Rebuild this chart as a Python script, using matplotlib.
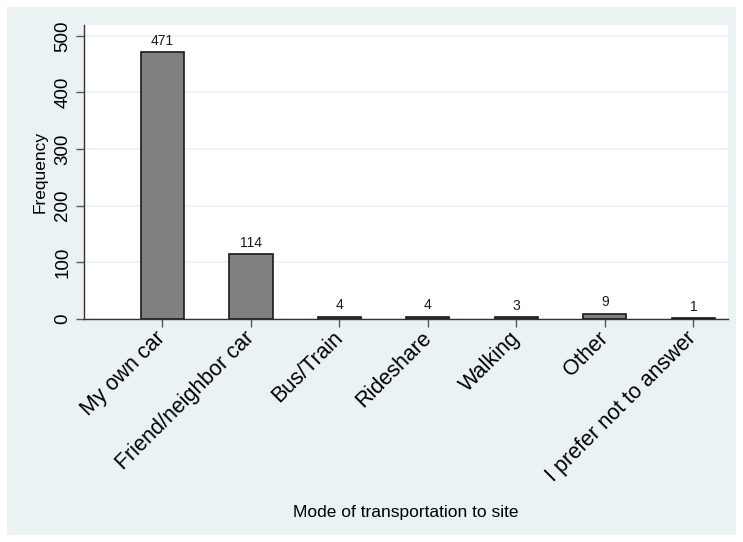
import matplotlib
matplotlib.use("Agg")
import matplotlib.pyplot as plt
from matplotlib.patches import Rectangle

categories = ["My own car", "Friend/neighbor car", "Bus/Train", "Rideshare",
              "Walking", "Other", "I prefer not to answer"]
values = [471, 114, 4, 4, 3, 9, 1]
yticks = [0, 100, 200, 300, 400, 500]

plt.rcParams['font.family'] = ['Liberation Sans', 'DejaVu Sans']

fig = plt.figure(figsize=(7.43, 5.42), dpi=100, facecolor='white')
bg = Rectangle((7/743, 7/542), 729/743, 528/542, transform=fig.transFigure,
               facecolor='#EAF2F3', edgecolor='none', zorder=-10)
fig.patches.append(bg)

ax = fig.add_axes([84/743, 1 - 319/542, (728-84)/743, (319-25)/542])
ax.set_facecolor('white')
x = list(range(len(categories)))
ax.bar(x, values, width=0.486, color='#808080', edgecolor='#1a1a1a', linewidth=1.2, zorder=3)
for xi, v in zip(x, values):
    ax.text(xi, v + 8, str(v), ha='center', va='bottom', fontsize=10, color='#1a1a1a')

ax.set_xlim(-0.887, 6.39)
ax.set_ylim(0, 519)
ax.set_yticks(yticks)
ax.set_yticklabels([str(t) for t in yticks], rotation=90, va='center', fontsize=13.5)
ax.set_xticks(x)
ax.set_xticklabels(categories, rotation=45, ha='right', va='center',
                   rotation_mode='anchor', fontsize=15.5)
ax.grid(axis='y', color='#EAF2F3', linewidth=1.2, zorder=0)
ax.tick_params(axis='both', color='#555555', length=5.5, width=1)
ax.tick_params(axis='x', pad=6)
for s in ['top', 'right']:
    ax.spines[s].set_visible(False)
for s in ['left', 'bottom']:
    ax.spines[s].set_color('#333333')
    ax.spines[s].set_linewidth(1)
ax.set_ylabel('Frequency', fontsize=12.5, labelpad=5)
fig.text((84+728)/2/743, 1 - 512/542, 'Mode of transportation to site',
         ha='center', va='center', fontsize=12.5)

fig.savefig('out.png', dpi=100, facecolor='white')
